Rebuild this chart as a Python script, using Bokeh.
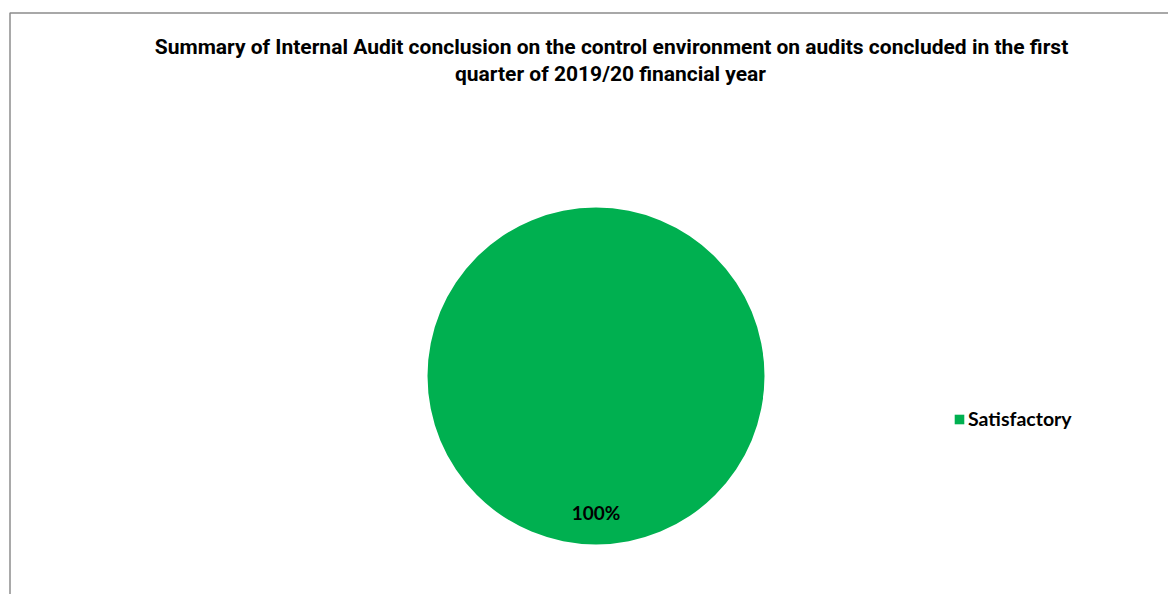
import numpy as np
from bokeh.plotting import figure
from bokeh.models import Range1d, BoxAnnotation, Legend, LegendItem, ColumnDataSource
from bokeh.core.properties import value
from bokeh.embed import file_html
from bokeh.resources import INLINE

# ---- data ----
categories = ["Satisfactory"]
counts = [1]
colors = ["#00B050"]
title_lines = [
    "Summary of Internal Audit conclusion on the control environment on audits concluded in the first",
    "quarter of 2019/20 financial year",
]

W, H = 1168, 594
p = figure(width=W, height=H, output_backend="svg", toolbar_location=None,
           x_range=Range1d(0, W), y_range=Range1d(H, 0),
           min_border=0, outline_line_color=None)
p.axis.visible = False
p.grid.visible = False
p.background_fill_color = "white"
p.border_fill_color = "white"

# chart area border (extends past the window on right/bottom)
p.add_layout(BoxAnnotation(left=9.5, top=12.5, right=W + 20, bottom=H + 20,
                           fill_alpha=0, line_color="#8c8c8c", line_alpha=1.0,
                           line_width=1.5, level="underlay"))

# pie
cx, cy, r = 595.5, 375.5, 168.5
vals = np.array(counts, dtype=float)
frac = vals / vals.sum()
ends = np.cumsum(frac) * 2 * np.pi
starts = ends - frac * 2 * np.pi
pcts = [f"{f*100:.0f}%" for f in frac]
src = ColumnDataSource(dict(cat=categories, start=starts, end=ends, color=colors, pct=pcts))
w = p.wedge(x=cx, y=cy, radius=r, start_angle="start", end_angle="end",
            fill_color="color", line_color=None, source=src)

# data label (Excel puts a single 100% slice label at the bottom)
lab = ColumnDataSource(dict(y=[cy + 0.81 * r] * len(pcts), t=pcts))
p.text(x=cx, y="y", text="t", source=lab, text_align="center", text_baseline="middle",
       text_font=value("Lato"), text_font_style="bold", text_font_size="19px",
       text_color="black")

# title
p.text(x=[611, 610], y=[46, 73], text=title_lines, text_align="center",
       text_baseline="middle", text_font=value("Roboto"),
       text_font_style="bold", text_font_size="21px", text_color="black")

legend = Legend(items=[LegendItem(label=categories[0], renderers=[w])],
                location=(953, 164), orientation="vertical",
                glyph_width=12, glyph_height=12, label_text_font="Lato",
                label_text_font_style="bold", label_text_font_size="19.5px",
                label_text_color="black",
                border_line_color=None, background_fill_alpha=0,
                label_standoff=3, padding=0, margin=0)
p.add_layout(legend)

open("out.html", "w").write(file_html(p, INLINE))
